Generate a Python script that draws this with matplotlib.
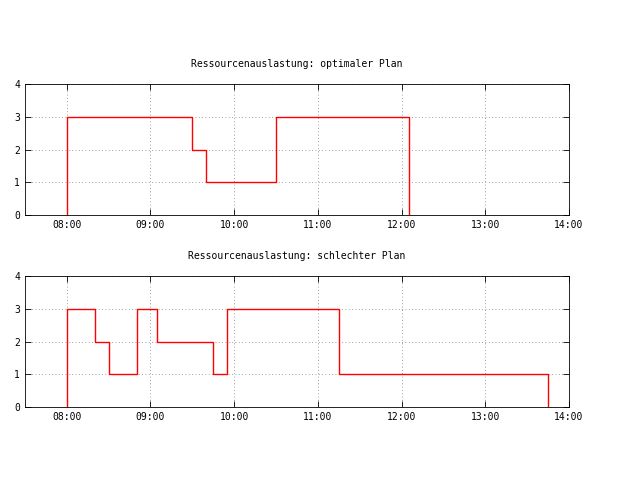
import matplotlib
matplotlib.use("Agg")
import matplotlib.pyplot as plt

plt.rcParams['font.family'] = ['DejaVu Sans Mono']
plt.rcParams['font.size'] = 7

# times in hours
opt_t = [8.0, 9.5, 9.6667, 10.5, 12.0833]
opt_v = [3, 2, 1, 3, 0]
bad_t = [8.0, 8.3333, 8.5, 8.8333, 9.0833, 9.75, 9.9167, 11.25, 13.75]
bad_v = [3, 2, 1, 3, 2, 1, 3, 1, 0]
ticks = [8, 9, 10, 11, 12, 13, 14]
tick_labels = ["08:00", "09:00", "10:00", "11:00", "12:00", "13:00", "14:00"]
titles = ["Ressourcenauslastung: optimaler Plan", "Ressourcenauslastung: schlechter Plan"]

fig = plt.figure(figsize=(6.4, 4.8), dpi=100)
rects = [[0.039, 0.552, 0.850, 0.273], [0.039, 0.152, 0.850, 0.273]]
for rect, t, v, title in zip(rects, [opt_t, bad_t], [opt_v, bad_v], titles):
    ax = fig.add_axes(rect)
    xs = [t[0]] + t
    ys = [0] + v
    ax.step(xs, ys, where='post', color='red', lw=1)
    ax.set_xlim(7.5, 14)
    ax.set_ylim(0, 4)
    ax.set_xticks(ticks)
    ax.set_xticklabels(tick_labels)
    ax.set_yticks([0, 1, 2, 3, 4])
    ax.tick_params(direction='in', top=True, right=True, length=4, width=0.6)
    ax.grid(True, linestyle=(0, (1, 3)), color='gray', lw=0.6)
    for s in ax.spines.values():
        s.set_linewidth(0.6)
    ax.set_title(title, fontsize=7, pad=12)

fig.savefig("out.png", dpi=100)
